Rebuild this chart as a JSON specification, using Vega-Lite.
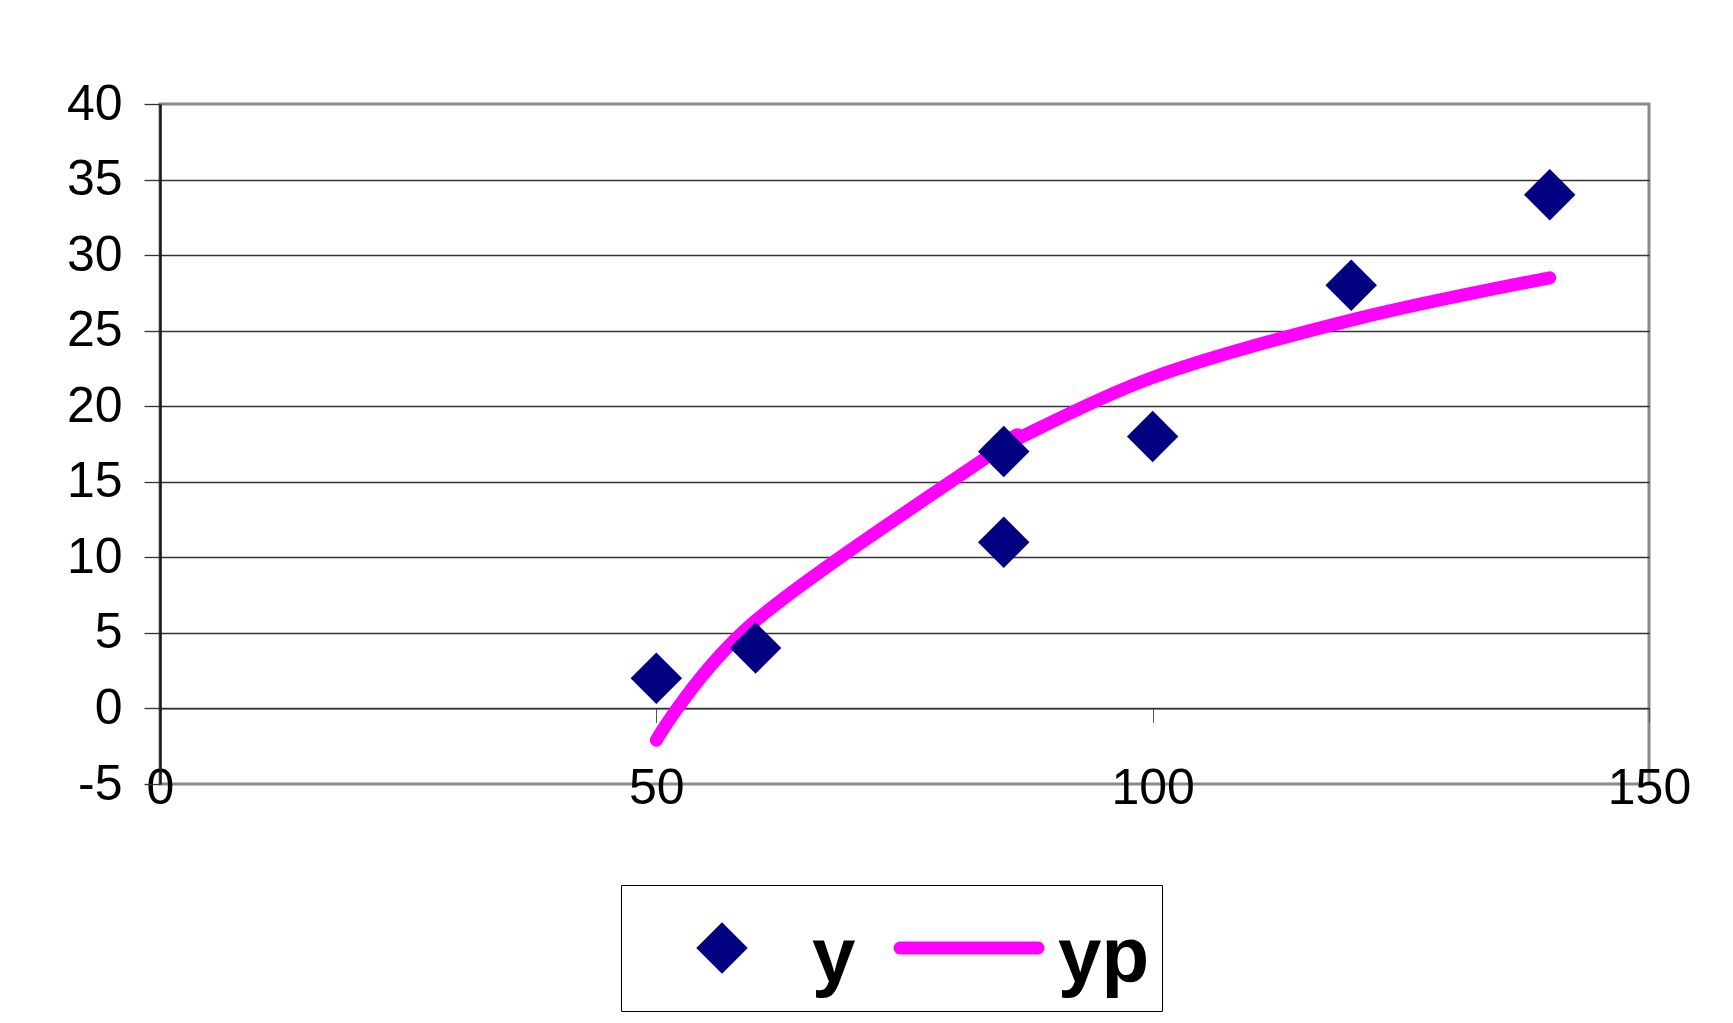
{
  "$schema": "https://vega.github.io/schema/vega-lite/v6.json",
  "width": 1489,
  "height": 680,
  "autosize": {"type": "none"},
  "padding": {"left": 160, "top": 104, "right": 84, "bottom": 239},
  "background": "#ffffff",
  "data": {
    "values": [
      {"x": 50, "value": 2, "series": "y"},
      {"x": 60, "value": 4, "series": "y"},
      {"x": 85, "value": 17, "series": "y"},
      {"x": 85, "value": 11, "series": "y"},
      {"x": 100, "value": 18, "series": "y"},
      {"x": 120, "value": 28, "series": "y"},
      {"x": 140, "value": 34, "series": "y"},
      {"x": 50, "value": -2.1, "series": "yp"},
      {"x": 60, "value": 5.8, "series": "yp"},
      {"x": 85, "value": 17.4, "series": "yp"},
      {"x": 85, "value": 17.4, "series": "yp"},
      {"x": 100, "value": 21.9, "series": "yp"},
      {"x": 120, "value": 25.7, "series": "yp"},
      {"x": 140, "value": 28.5, "series": "yp"}
    ]
  },
  "config": {
    "font": "Liberation Sans",
    "view": {"stroke": "#8a8a8a", "strokeWidth": 3},
    "axis": {
      "labelFont": "Liberation Sans",
      "labelFontSize": 50,
      "labelColor": "#000000",
      "labelExpr": "'' + datum.value",
      "title": null
    }
  },
  "encoding": {
    "x": {
      "field": "x",
      "type": "quantitative",
      "scale": {"domain": [0, 150], "nice": false, "zero": false},
      "axis": {
        "values": [0, 50, 100, 150],
        "offset": -75.6,
        "domain": true,
        "domainColor": "#333333",
        "domainWidth": 1.3,
        "ticks": true,
        "tickSize": 14,
        "tickColor": "#555555",
        "tickWidth": 1,
        "labelPadding": 66,
        "labelBaseline": "middle",
        "labelFlush": false,
        "labelOverlap": false,
        "labelBound": false,
        "grid": false
      }
    },
    "y": {
      "field": "value",
      "type": "quantitative",
      "scale": {"domain": [-5, 40], "nice": false, "zero": false},
      "axis": {
        "values": [-5, 0, 5, 10, 15, 20, 25, 30, 35, 40],
        "domain": true,
        "domainColor": "#1a1a1a",
        "domainWidth": 2.5,
        "ticks": true,
        "tickSize": 16,
        "tickColor": "#333333",
        "tickWidth": 1.3,
        "labelPadding": 22,
        "labelFlush": false,
        "labelOverlap": false,
        "grid": true,
        "gridColor": {
          "condition": {"test": "datum.value === 40 || datum.value === -5", "value": "transparent"},
          "value": "#333333"
        },
        "gridWidth": 1.3
      }
    }
  },
  "layer": [
    {
      "transform": [{"filter": "datum.series === 'yp'"}],
      "mark": {
        "type": "line",
        "interpolate": "cardinal",
        "color": "#ff00ff",
        "strokeWidth": 13,
        "strokeCap": "round",
        "strokeJoin": "round"
      }
    },
    {
      "transform": [{"filter": "datum.series === 'y'"}],
      "mark": {"type": "point", "filled": true, "opacity": 1, "strokeWidth": 0},
      "encoding": {
        "color": {
          "field": "series",
          "type": "nominal",
          "scale": {"domain": ["y", "yp"], "range": ["#000080", "#ff00ff"]},
          "legend": {
            "title": null,
            "orient": "none",
            "legendX": 461,
            "legendY": 781,
            "direction": "horizontal",
            "padding": 12,
            "strokeColor": "#000000",
            "fillColor": "#ffffff",
            "labelFont": "Liberation Sans",
            "labelFontSize": 78,
            "labelFontWeight": "bold",
            "labelColor": "#000000",
            "labelLimit": 400,
            "labelOffset": 0,
            "symbolOffset": 38,
            "columnPadding": 0,
            "clipHeight": 102,
            "symbolStrokeWidth": 13,
            "symbolOpacity": 1,
            "encode": {
              "symbols": {
                "update": {
                  "x": {"signal": "datum.value === 'y' ? 89 : 113"},
                  "fill": {"signal": "datum.value === 'y' ? '#000080' : 'transparent'"},
                  "stroke": {"signal": "datum.value === 'yp' ? '#ff00ff' : 'transparent'"},
                  "strokeCap": {"value": "round"}
                }
              },
              "labels": {
                "update": {
                  "x": {"signal": "datum.value === 'y' ? 179 : 202"},
                  "dy": {"value": 11}
                }
              }
            }
          }
        },
        "shape": {
          "field": "series",
          "type": "nominal",
          "scale": {"domain": ["y", "yp"], "range": ["diamond", "stroke"]}
        },
        "size": {
          "field": "series",
          "type": "nominal",
          "scale": {"type": "point", "domain": ["y", "yp"], "range": [2650, 19044], "padding": 0}
        }
      }
    }
  ]
}
